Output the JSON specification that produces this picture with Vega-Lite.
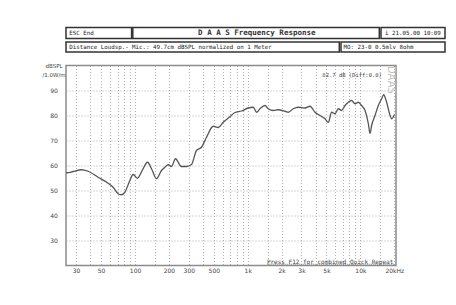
{
  "$schema": "https://vega.github.io/schema/vega-lite/v6.json",
  "background": "white",
  "padding": {"left": 41, "top": 26.5, "right": 5, "bottom": 5},
  "spacing": 9,
  "config": {"font": "DejaVu Sans Mono", "axis": {"labelOverlap": false}, "axisY": {"labelOverlap": false}},
  "vconcat": [
    {
      "width": 379,
      "height": 25,
      "view": {"stroke": null},
      "layer": [
        {
          "data": {"values": [
            {"x0": 0, "x1": 65.6, "y0": 0, "y1": 11},
            {"x0": 66.8, "x1": 313.3, "y0": 0, "y1": 11},
            {"x0": 315, "x1": 379, "y0": 0, "y1": 11},
            {"x0": 0, "x1": 273.3, "y0": 14.4, "y1": 24.4},
            {"x0": 275, "x1": 379, "y0": 14.4, "y1": 24.4}
          ]},
          "mark": {"type": "rect", "fill": "white", "stroke": "#333", "strokeWidth": 1.5},
          "encoding": {
            "x": {"field": "x0", "type": "quantitative", "scale": {"domain": [0, 379], "nice": false}, "axis": null},
            "x2": {"field": "x1"},
            "y": {"field": "y0", "type": "quantitative", "scale": {"domain": [0, 25], "reverse": true, "nice": false}, "axis": null},
            "y2": {"field": "y1"}
          }
        },
        {
          "data": {"values": [
            {"x": 3.3, "y": 5.6, "t": "ESC  End"},
            {"x": 319, "y": 5.6, "t": "i 21.05.00 10:09"},
            {"x": 3.3, "y": 19.4, "t": "Distance Loudsp.- Mic.: 49.7cm dBSPL normalized on 1 Meter"},
            {"x": 277.6, "y": 19.4, "t": "MO: 23-0 0.5mlv 8ohm"}
          ]},
          "mark": {"type": "text", "align": "left", "baseline": "middle", "fontSize": 5.8, "font": "DejaVu Sans Mono", "color": "#222"},
          "encoding": {
            "x": {"field": "x", "type": "quantitative"},
            "y": {"field": "y", "type": "quantitative"},
            "text": {"field": "t"}
          }
        },
        {
          "data": {"values": [
            {"x": 190.8, "y": 5.6, "t": "D A A S  Frequency Response"}
          ]},
          "mark": {"type": "text", "align": "center", "baseline": "middle", "fontSize": 7.5, "fontWeight": "bold", "font": "DejaVu Sans Mono", "color": "#333"},
          "encoding": {
            "x": {"field": "x", "type": "quantitative"},
            "y": {"field": "y", "type": "quantitative"},
            "text": {"field": "t"}
          }
        }
      ]
    },
    {
      "width": 330,
      "height": 200,
      "view": {"stroke": "#8c8c8c", "strokeWidth": 1.5},
      "layer": [
        {
          "data": {"values": [
            {"f": 24.4, "db": 57.2}, {"f": 25, "db": 57.1}, {"f": 28.2, "db": 57.6}, {"f": 33.4, "db": 58.3},
            {"f": 38.3, "db": 57.7}, {"f": 47, "db": 55.3}, {"f": 57.7, "db": 52.9}, {"f": 63.9, "db": 51.3},
            {"f": 70.8, "db": 48.7}, {"f": 75.7, "db": 48.3}, {"f": 81.2, "db": 49.3}, {"f": 90, "db": 54},
            {"f": 96.3, "db": 56.4}, {"f": 105, "db": 54.9}, {"f": 115.7, "db": 58}, {"f": 129, "db": 61.3},
            {"f": 140, "db": 58.7}, {"f": 155, "db": 54.7}, {"f": 171.7, "db": 58}, {"f": 184, "db": 59.3},
            {"f": 196.8, "db": 60.3}, {"f": 210.7, "db": 59.6}, {"f": 228.5, "db": 62.7}, {"f": 258, "db": 59.6},
            {"f": 286, "db": 59.6}, {"f": 317, "db": 60.4}, {"f": 351, "db": 66}, {"f": 389, "db": 67.3},
            {"f": 431, "db": 71.3}, {"f": 494, "db": 75.7}, {"f": 547, "db": 75.2}, {"f": 606, "db": 77.3},
            {"f": 695, "db": 79.5}, {"f": 770, "db": 81.2}, {"f": 881, "db": 81.8}, {"f": 1011, "db": 83},
            {"f": 1120, "db": 83.3}, {"f": 1198, "db": 81.3}, {"f": 1284, "db": 82.7}, {"f": 1422, "db": 84},
            {"f": 1522, "db": 82.7}, {"f": 1685, "db": 82}, {"f": 1867, "db": 82.3}, {"f": 2142, "db": 81.7},
            {"f": 2291, "db": 81.3}, {"f": 2537, "db": 82.7}, {"f": 2810, "db": 83.3}, {"f": 3223, "db": 83},
            {"f": 3570, "db": 83.7}, {"f": 3954, "db": 81.3}, {"f": 4380, "db": 80}, {"f": 4851, "db": 78.7},
            {"f": 5190, "db": 77.3}, {"f": 5553, "db": 81.3}, {"f": 5952, "db": 80.7}, {"f": 6369, "db": 82.7},
            {"f": 6813, "db": 82}, {"f": 7302, "db": 84}, {"f": 7812, "db": 85.3}, {"f": 8358, "db": 86},
            {"f": 8958, "db": 84.7}, {"f": 9585, "db": 85.3}, {"f": 10254, "db": 84}, {"f": 10992, "db": 82},
            {"f": 11763, "db": 76.7}, {"f": 12180, "db": 72.8}, {"f": 12585, "db": 76}, {"f": 13485, "db": 80},
            {"f": 14430, "db": 84}, {"f": 15435, "db": 86.7}, {"f": 16080, "db": 88.3}, {"f": 17100, "db": 85.3},
            {"f": 18330, "db": 80}, {"f": 18930, "db": 78.7}, {"f": 20000, "db": 80.3}
          ]},
          "mark": {"type": "line", "color": "#555", "strokeWidth": 1.3, "interpolate": "monotone"},
          "encoding": {
            "x": {
              "field": "f", "type": "quantitative",
              "scale": {"type": "log", "domain": [24.4, 20700], "nice": false},
              "axis": {
                "title": null,
                "values": [30, 40, 50, 60, 70, 80, 90, 100, 150, 200, 300, 400, 500, 600, 700, 800, 900, 1000, 1500, 2000, 3000, 4000, 5000, 6000, 7000, 8000, 9000, 10000, 15000, 20000],
                "labelExpr": "indexof([30,50,100,200,300,500,1000,2000,3000,5000,10000,20000], datum.value) < 0 ? '' : (datum.value == 20000 ? '20kHz' : (datum.value >= 1000 ? (datum.value / 1000) + 'k' : '' + datum.value))",
                "labelOverlap": false,
                "labelFlush": false,
                "labelFont": "DejaVu Sans",
                "labelFontSize": 6,
                "labelColor": "#444",
                "labelPadding": 2,
                "ticks": false,
                "domain": false,
                "grid": true,
                "gridDash": [1, 2],
                "gridColor": "#9a9a9a",
                "gridWidth": 0.8
              }
            },
            "y": {
              "field": "db", "type": "quantitative",
              "scale": {"domain": [20, 100], "nice": false},
              "axis": {
                "title": ["dBSPL", "/1.0W/m"],
                "titleAngle": 0,
                "titleAlign": "center",
                "titleBaseline": "top",
                "titleX": -12.5,
                "titleY": -2,
                "titleFont": "DejaVu Sans",
                "titleFontSize": 5.5,
                "titleFontWeight": "normal",
                "titleColor": "#444",
                "titleLineHeight": 8.5,
                "values": [30, 40, 50, 60, 70, 80, 90],
                "tickCount": 7,
                "labelOverlap": false,
                "labelSeparation": 0,
                "labelFont": "DejaVu Sans",
                "labelFontSize": 6,
                "labelColor": "#444",
                "labelPadding": 8.7,
                "ticks": false,
                "domain": false,
                "grid": true,
                "gridDash": [1, 2],
                "gridColor": "#9a9a9a",
                "gridWidth": 0.8
              }
            }
          }
        },
        {
          "data": {"values": [{"f": 4593, "db": 96.4, "t": "82.7 dB (Diff:0.0)"}]},
          "mark": {"type": "text", "align": "left", "baseline": "middle", "fontSize": 5.5, "font": "DejaVu Sans Mono", "color": "#444"},
          "encoding": {
            "x": {"field": "f", "type": "quantitative"},
            "y": {"field": "db", "type": "quantitative"},
            "text": {"field": "t"}
          }
        },
        {
          "data": {"values": [{"f": 18750, "db": 94.2, "t": "DAAS"}]},
          "mark": {"type": "text", "align": "center", "baseline": "middle", "angle": 90, "fontSize": 10, "font": "DejaVu Sans", "color": "#c4c4c4"},
          "encoding": {
            "x": {"field": "f", "type": "quantitative"},
            "y": {"field": "db", "type": "quantitative"},
            "text": {"field": "t"}
          }
        },
        {
          "data": {"values": [{"f": 20000, "db": 21.4, "t": "Press F12 for combined Quick Repeat"}]},
          "mark": {"type": "text", "align": "right", "baseline": "middle", "dx": -1, "fontSize": 6, "font": "DejaVu Sans Mono", "color": "#444"},
          "encoding": {
            "x": {"field": "f", "type": "quantitative"},
            "y": {"field": "db", "type": "quantitative"},
            "text": {"field": "t"}
          }
        },
        {
          "data": {"values": [{"f": 1490, "f2": 19900, "db": 20.5}]},
          "mark": {"type": "rule", "color": "#666", "strokeWidth": 0.7, "strokeDash": [1, 1]},
          "encoding": {
            "x": {"field": "f", "type": "quantitative"},
            "x2": {"field": "f2"},
            "y": {"field": "db", "type": "quantitative"}
          }
        }
      ]
    }
  ]
}
